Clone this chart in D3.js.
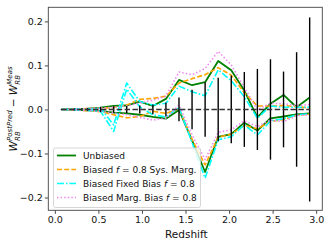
<!DOCTYPE html>
<html>
<head>
<meta charset="utf-8">
<script src="https://cdn.jsdelivr.net/npm/d3@7"></script>
<style>
  body { margin: 0; background: #fff; }
  svg { display: block; font-family: "DejaVu Sans", sans-serif; }
</style>
</head>
<body>
<svg width="330" height="245"></svg>
<script>
// redshift bin centres
let redshift = [0.075, 0.225, 0.375, 0.525, 0.675, 0.825, 0.975, 1.125, 1.275, 1.425,
                1.575, 1.725, 1.875, 2.025, 2.175, 2.325, 2.475, 2.625, 2.775, 2.925];

// measurement errors (black bars round zero)
let measErr = [0.001, 0.002, 0.003, 0.006, 0.007, 0.008, 0.009, 0.011, 0.016, 0.027,
               0.045, 0.062, 0.072, 0.077, 0.085, 0.092, 0.114, 0.086, 0.130, 0.209];

// upper / lower curves for each run
let unbiasedHi = [0.000, 0.001, 0.002, 0.004, 0.008, 0.009, 0.018, 0.008, 0.024, 0.067,
                  0.055, 0.062, 0.110, 0.089, 0.043, -0.018, 0.013, 0.033, 0.005, 0.027];
let unbiasedLo = [0.000, -0.001, -0.002, -0.003, -0.007, -0.009, -0.012, -0.017, -0.021, -0.001,
                  -0.070, -0.142, -0.062, -0.056, -0.030, -0.048, -0.020, -0.016, -0.011, -0.009];
let sysHi = [0.000, 0.001, 0.002, 0.003, 0.004, 0.010, 0.023, 0.025, 0.030, 0.060,
             0.070, 0.079, 0.095, 0.078, 0.038, 0.008, 0.008, 0.009, 0.006, 0.004];
let sysLo = [0.000, -0.001, -0.003, -0.005, -0.012, -0.019, -0.016, -0.004, -0.009, 0.002,
             -0.068, -0.126, -0.063, -0.056, -0.036, -0.044, -0.027, -0.023, -0.013, -0.011];
let fixedHi = [0.000, 0.001, 0.001, 0.003, -0.035, 0.060, 0.018, 0.010, 0.014, 0.053,
               0.040, 0.031, 0.090, 0.065, 0.029, -0.020, 0.008, 0.005, 0.005, 0.005];
let fixedLo = [0.000, -0.001, -0.002, -0.004, -0.050, 0.046, 0.006, -0.012, -0.017, 0.005,
               -0.075, -0.156, -0.069, -0.062, -0.035, -0.058, -0.026, -0.021, -0.012, -0.010];
let margHi = [0.000, 0.001, 0.002, 0.003, 0.005, 0.008, 0.015, 0.021, 0.030, 0.085,
              0.079, 0.093, 0.132, 0.101, 0.050, -0.001, 0.014, 0.013, 0.009, 0.011];
let margLo = [0.000, -0.001, -0.002, -0.004, -0.008, -0.012, -0.018, -0.024, -0.020, 0.010,
              -0.058, -0.114, -0.052, -0.046, -0.026, -0.039, -0.024, -0.028, -0.014, -0.012];

let xTicks = [0, 0.5, 1.0, 1.5, 2.0, 2.5, 3.0];
let yTicks = [-0.2, -0.1, 0.0, 0.1, 0.2];

let series = [
    { label: "Unbiased", hi: unbiasedHi, lo: unbiasedLo, color: "green", dash: null, width: 1.8 },
    { label: "sys", hi: sysHi, lo: sysLo, color: "orange", dash: "5,2.2", width: 1.6 },
    { label: "fixed", hi: fixedHi, lo: fixedLo, color: "cyan", dash: "7,2,1.5,2", width: 1.6 },
    { label: "marg", hi: margHi, lo: margLo, color: "violet", dash: "1.4,2.2", width: 1.6 }
];

let padLeft = 48.3, padRight = 322.3, padTop = 7.3, padBottom = 210.3;

let xScale = d3.scaleLinear()
                .domain([-0.075, 3.07])
                .range([padLeft, padRight]);
let yScale = d3.scaleLinear()
                .domain([-0.229, 0.232])
                .range([padBottom, padTop]);

let svg = d3.select("svg");

let line = d3.line()
    .x((d, i) => xScale(redshift[i]))
    .y(d => yScale(d));

// coloured curves
series.forEach(s => {
    [s.hi, s.lo].forEach(vals => {
        svg.append("path")
            .attr("d", line(vals))
            .attr("fill", "none")
            .attr("stroke", s.color)
            .attr("stroke-width", s.width)
            .attr("stroke-dasharray", s.dash)
            .attr("stroke-linejoin", "round");
    });
});

// measurement error bars
svg.selectAll("line.err")
    .data(measErr)
    .enter()
    .append("line")
    .classed("err", true)
    .attr("x1", (d, i) => xScale(redshift[i]))
    .attr("x2", (d, i) => xScale(redshift[i]))
    .attr("y1", d => yScale(d))
    .attr("y2", d => yScale(-d))
    .attr("stroke", "black")
    .attr("stroke-width", 1.4);

svg.append("path")
    .attr("d", line(redshift.map(() => 0)))
    .attr("fill", "none")
    .attr("stroke", "#333")
    .attr("stroke-width", 1.6)
    .attr("stroke-dasharray", "5.5,2.4");

// axes
let xAxis = d3.axisBottom(xScale)
                .tickValues(xTicks)
                .tickFormat(d3.format(".1f"))
                .tickSize(3.5)
                .tickSizeOuter(0);
let yAxis = d3.axisLeft(yScale)
                .tickValues(yTicks)
                .tickFormat(d => d3.format(".1f")(d).replace("-", "\u2212"))
                .tickSize(3.5)
                .tickSizeOuter(0);

let gx = svg.append("g")
    .attr("transform", "translate(0," + padBottom + ")")
    .call(xAxis);
let gy = svg.append("g")
    .attr("transform", "translate(" + padLeft + ",0)")
    .call(yAxis);

[gx, gy].forEach(g => {
    g.select(".domain").remove();
    g.selectAll("line").attr("stroke", "#333").attr("stroke-width", 0.9);
    g.selectAll("text")
        .attr("fill", "#111")
        .style("font-family", "DejaVu Sans")
        .style("font-size", "9.5px");
});
gx.selectAll("text").attr("dy", "0.71em").attr("y", 6);
gy.selectAll("text").attr("x", -5.5);

svg.append("rect")
    .attr("x", padLeft)
    .attr("y", padTop)
    .attr("width", padRight - padLeft)
    .attr("height", padBottom - padTop)
    .attr("fill", "none")
    .attr("stroke", "#444")
    .attr("stroke-width", 0.9);

svg.append("text")
    .attr("x", (padLeft + padRight) / 2 + 1)
    .attr("y", 237.5)
    .style("text-anchor", "middle")
    .style("font-size", "10.5px")
    .attr("fill", "#111")
    .text("Redshift");

// y label: W^PostPred_RB − W^Meas_RB
let ylab = svg.append("g");
let cursor = 0;
function piece(txt, size, dy, italic) {
    let t = ylab.append("text")
        .attr("x", cursor)
        .attr("y", dy)
        .style("font-size", size + "px")
        .style("font-style", italic ? "italic" : "normal")
        .attr("fill", "#111")
        .text(txt);
    return t.node().getComputedTextLength();
}
function term(sup) {
    let w = piece("W", 10.5, 0, true);
    cursor += w + 0.3;
    let w1 = piece(sup, 7, -4.6, true);
    let w2 = piece("RB", 7, 2.6, true);
    cursor += Math.max(w1, w2);
}
term("PostPred");
cursor += 3;
cursor += piece("\u2212", 10.5, 0, false) + 3;
term("Meas");
ylab.attr("transform", "translate(17," + (109 + cursor / 2) + ") rotate(-90)");

// legend
let legend = svg.append("g");
legend.append("rect")
    .attr("x", 53.5)
    .attr("y", 148)
    .attr("width", 147)
    .attr("height", 59.5)
    .attr("rx", 2)
    .attr("fill", "white")
    .attr("fill-opacity", 0.8)
    .attr("stroke", "#ccc")
    .attr("stroke-width", 0.8);

let rows = legend.selectAll("g.row")
    .data(series)
    .enter()
    .append("g")
    .attr("transform", (d, i) => "translate(0," + (155.5 + i * 14) + ")");

rows.append("line")
    .attr("x1", 57)
    .attr("x2", 76)
    .attr("stroke", d => d.color)
    .attr("stroke-width", d => d.width)
    .attr("stroke-dasharray", d => d.dash);

let labels = rows.append("text")
    .attr("x", 83)
    .attr("dy", "0.35em")
    .style("font-size", "9px")
    .attr("fill", "#111");

labels.each(function(d) {
    let t = d3.select(this);
    if (d.label === "Unbiased") {
        t.text("Unbiased");
        return;
    }
    let before = d.label === "sys" ? "Biased " : d.label === "fixed" ? "Biased Fixed Bias " : "Biased Marg. Bias ";
    t.append("tspan").text(before);
    t.append("tspan").style("font-style", "italic").text("f");
    t.append("tspan").text(" = 0.8" + (d.label === "sys" ? " Sys. Marg." : ""));
});
</script>
</body>
</html>
